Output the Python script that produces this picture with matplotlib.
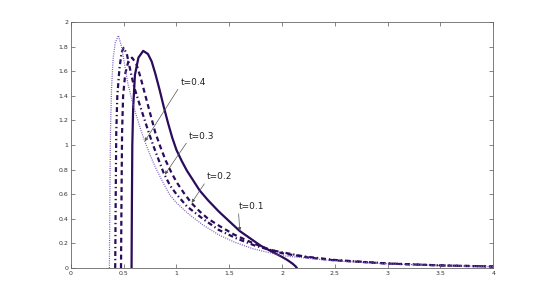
import numpy as np
import matplotlib
matplotlib.use('Agg')
import matplotlib.pyplot as plt

# profiles, one per time
x_t1 = [0.575, 0.578, 0.582, 0.59, 0.607, 0.64, 0.685, 0.73, 0.765, 0.80, 0.84,
        0.88, 0.92, 0.96, 1.00, 1.05, 1.10, 1.16, 1.22, 1.30, 1.40, 1.50, 1.60,
        1.70, 1.80, 1.90, 2.00, 2.05, 2.10, 2.13, 2.14]
y_t1 = [0.0, 0.5, 1.0, 1.3, 1.57, 1.71, 1.765, 1.74, 1.68, 1.58, 1.45,
        1.31, 1.18, 1.06, 0.96, 0.87, 0.79, 0.71, 0.63, 0.55, 0.46, 0.38, 0.30,
        0.24, 0.18, 0.135, 0.09, 0.065, 0.035, 0.012, 0.0]

x_t2 = [0.475, 0.48, 0.485, 0.495, 0.515, 0.545, 0.58, 0.62, 0.66, 0.70, 0.75,
        0.80, 0.85, 0.90, 0.95, 1.00, 1.07, 1.14, 1.22, 1.30, 1.41, 1.55, 1.73,
        1.85, 2.0, 2.25, 2.5, 3.0, 3.5, 4.0]
y_t2 = [0.0, 0.6, 1.1, 1.4, 1.58, 1.68, 1.71, 1.66, 1.55, 1.42, 1.26,
        1.10, 0.98, 0.87, 0.78, 0.70, 0.61, 0.53, 0.46, 0.40, 0.34, 0.27, 0.20,
        0.16, 0.12, 0.085, 0.062, 0.036, 0.021, 0.012]

x_t3 = [0.42, 0.425, 0.43, 0.44, 0.46, 0.48, 0.50, 0.53, 0.57, 0.60, 0.64,
        0.70, 0.75, 0.80, 0.88, 0.94, 1.00, 1.10, 1.25, 1.40, 1.57, 1.75, 1.89,
        2.2, 2.5, 3.0, 3.5, 4.0]
y_t3 = [0.0, 0.6, 1.1, 1.4, 1.62, 1.75, 1.79, 1.74, 1.58, 1.47, 1.36,
        1.20, 1.07, 0.95, 0.77, 0.67, 0.60, 0.50, 0.40, 0.31, 0.24, 0.18, 0.146,
        0.095, 0.065, 0.037, 0.021, 0.012]

x_t4 = [0.365, 0.37, 0.375, 0.385, 0.40, 0.42, 0.45, 0.48, 0.50, 0.54, 0.58,
        0.62, 0.66, 0.70, 0.75, 0.80, 0.87, 0.94, 1.00, 1.10, 1.25, 1.40, 1.55,
        1.73, 2.0, 2.5, 3.0, 3.5, 4.0]
y_t4 = [0.0, 0.6, 1.1, 1.45, 1.70, 1.83, 1.89, 1.80, 1.70, 1.50, 1.36,
        1.24, 1.13, 1.03, 0.92, 0.82, 0.70, 0.59, 0.53, 0.45, 0.35, 0.27, 0.21,
        0.155, 0.10, 0.058, 0.034, 0.02, 0.011]

labels = ['t=0.1', 't=0.2', 't=0.3', 't=0.4']
# (tip x, tip y, text x, text y)
notes = [(1.60, 0.30, 1.586, 0.50),
         (1.144, 0.53, 1.29, 0.74),
         (0.89, 0.76, 1.12, 1.07),
         (0.70, 1.03, 1.04, 1.51)]

dark = '#2a0b5c'
light = '#7a5cc0'

fig = plt.figure(figsize=(5.45, 3.02), dpi=100)
ax = fig.add_axes([0.130, 0.1126, 0.775, 0.8146])

ax.plot(x_t1, y_t1, color=dark, lw=1.6, ls='-')
ax.plot(x_t2, y_t2, color=dark, lw=1.6, ls=(0, (2.2, 1.6)))
ax.plot(x_t3, y_t3, color=dark, lw=1.6, ls=(0, (2.2, 1.3, 0.6, 1.3)))
ax.plot(x_t4, y_t4, color=light, lw=0.9, ls=(0, (0.8, 1.0)))

for lab, (xt, yt, xl, yl) in zip(labels, notes):
    ax.annotate(lab, xy=(xt, yt), xytext=(xl, yl), fontsize=6.5,
                ha='left', va='center', color='#222222',
                arrowprops=dict(arrowstyle='-|>', color='#555555', lw=0.5,
                                mutation_scale=5, shrinkA=0, shrinkB=0,
                                relpos=(0, 0.2)))

ax.set_xlim(0, 4)
ax.set_ylim(0, 2)
ax.set_xticks(np.arange(0, 4.01, 0.5))
ax.set_xticklabels(['0', '0.5', '1', '1.5', '2', '2.5', '3', '3.5', '4'])
ax.set_yticks(np.arange(0, 2.01, 0.2))
ax.set_yticklabels(['0', '0.2', '0.4', '0.6', '0.8', '1', '1.2', '1.4', '1.6', '1.8', '2'])
ax.tick_params(direction='in', length=3, width=0.5, labelsize=4.5,
               top=True, right=True, colors='#555555', labelcolor='#333333', pad=2)
for s in ax.spines.values():
    s.set_color('#666666')
    s.set_linewidth(0.6)

fig.savefig('out.png', dpi=100)
